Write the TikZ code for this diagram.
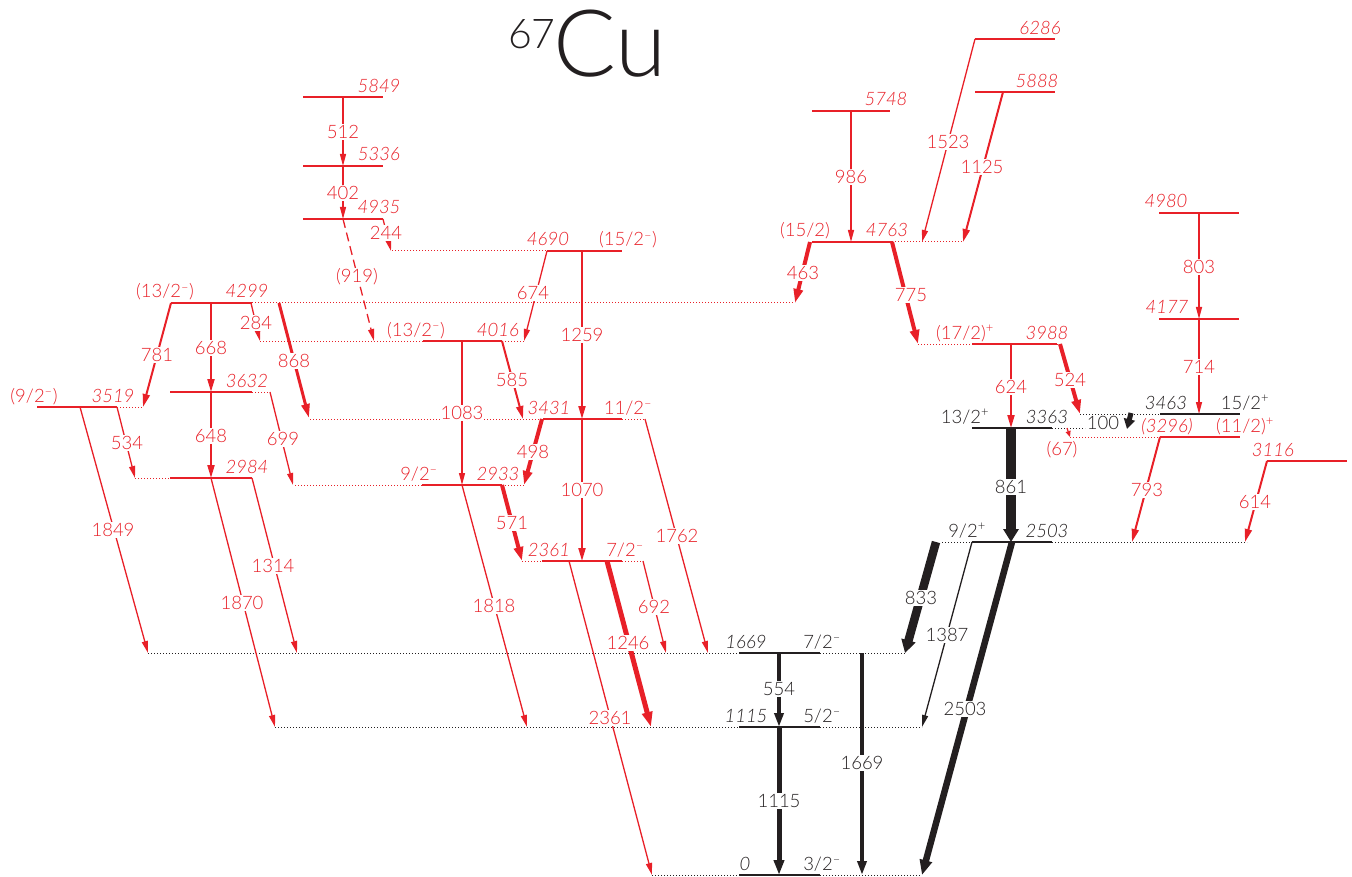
\documentclass[tikz,border=0pt]{standalone}
\usepackage{fontspec}
\setmainfont{Lato}[UprightFont={* Light},ItalicFont={* Light Italic}]
\usetikzlibrary{arrows.meta}
\pgfdeclarelayer{fg}
\pgfsetlayers{main,fg}
\definecolor{rd}{RGB}{232,32,40}
\definecolor{bk}{RGB}{35,31,32}
\tikzset{
  lvl/.style={line width=1.6pt},
  dots/.style={line width=1pt, dash pattern=on 1pt off 2pt},
  gl/.style={font=\fontsize{18.5}{21}\selectfont, fill=white, inner sep=1pt},
  el/.style={font=\fontsize{18.5}{21}\selectfont\itshape, anchor=base, inner sep=0pt},
  sl/.style={font=\fontsize{18.5}{21}\selectfont, anchor=base, inner sep=0pt},
  g0/.style={line width=1.2pt, -{Triangle[length=6pt,width=5pt]}},
  g1/.style={line width=1.3pt, -{Triangle[length=12pt,width=6pt]}},
  g2/.style={line width=2pt, -{Triangle[length=13pt,width=7pt]}},
  g3/.style={line width=3pt, -{Triangle[length=14pt,width=8pt]}},
  g4/.style={line width=4pt, -{Triangle[length=14pt,width=9pt]}},
  g5/.style={line width=5pt, -{Triangle[length=15pt,width=10pt]}},
  gI/.style={line width=6.5pt, -{Triangle[length=15pt,width=12pt]}},
  gJ/.style={line width=8.5pt, -{Triangle[length=13pt,width=14pt]}},
  gK/.style={line width=10pt, -{Triangle[length=13pt,width=15pt]}},
  gH/.style={line width=5pt, -{Triangle[length=10pt,width=11pt]}},
  dsh/.style={dash pattern=on 9pt off 5pt},
}
% level: colour, y, dotted-left, solid-left, solid-right, dotted-right
\newcommand\Lev[6]{%
  \draw[#1,dots] (#3,#2) -- (#4,#2);
  \draw[#1,dots] (#5,#2) -- (#6,#2);
  \draw[#1,lvl] (#4,#2) -- (#5,#2);}
% transition: style, x1, y1, x2, y2, name, text, label x, label y
\newcommand\G[9]{%
  \draw[#1] (#2,#3) -- (#4,#5);
  \begin{pgfonlayer}{fg}\node[#1,gl] (#6) at (#8,#9) {#7};\end{pgfonlayer}}
\newcommand\EL[4]{\node[el,#1] (e#2) at (#3,#4) {#2};}
\newcommand\SL[5]{\node[sl,#1] (#2) at (#4,#5) {#3};}
\newcommand\mi{\textsuperscript{–}}
\newcommand\pl{\textsuperscript{+}}
\begin{document}
\begin{tikzpicture}[x=1pt,y=-1pt]
\useasboundingbox (0,0) rectangle (1352,877);
% title
\node[bk,font=\fontsize{41}{41}\selectfont, anchor=base west, inner sep=0pt] (mass) at (508,49) {67};
\node[bk,font=\fontsize{93}{93}\selectfont, anchor=base west, inner sep=0pt] (cu) at (mass.base east) [xshift=-3pt, yshift=-28pt] {Cu};
% red levels
\Lev{rd}{39}{975}{975}{1055}{1055}
\Lev{rd}{92}{975}{975}{1055}{1055}
\Lev{rd}{97}{303}{303}{383}{383}
\Lev{rd}{111}{812}{812}{890}{890}
\Lev{rd}{166}{303}{303}{383}{383}
\Lev{rd}{213}{1159}{1159}{1239}{1239}
\Lev{rd}{219}{303}{303}{383}{383}
\Lev{rd}{242}{812}{812}{892}{963}
\Lev{rd}{251}{392}{547}{622}{622}
\Lev{rd}{303}{171}{171}{252}{795}
\Lev{rd}{319}{1159}{1159}{1239}{1239}
\Lev{rd}{344}{918}{972}{1057}{1060}
\Lev{rd}{341}{260}{423}{502}{524}
\Lev{rd}{392}{170}{170}{252}{270}
\Lev{rd}{407}{37}{37}{117}{143}
\Lev{rd}{419}{310}{543}{622}{645}
\Lev{rd}{437}{1070}{1160}{1240}{1240}
\Lev{rd}{461}{1267}{1267}{1347}{1347}
\Lev{rd}{478}{135}{170}{252}{252}
\Lev{rd}{485}{295}{422}{502}{524}
\Lev{rd}{561}{522}{542}{622}{643}
% black levels
\Lev{bk}{414}{1080}{1160}{1240}{1240}
\Lev{bk}{428}{972}{972}{1052}{1085}
\Lev{bk}{542}{942}{972}{1052}{1247}
\Lev{bk}{653}{148}{739}{820}{905}
\Lev{bk}{727}{275}{739}{820}{922}
\Lev{bk}{875}{652}{739}{820}{920}
% red transitions
\G{rd,g1}{343}{97}{343}{166}{t512}{512}{343}{132}
\G{rd,g1}{343}{166}{343}{219}{t402}{402}{343}{193}
\G{rd,g1}{383}{219}{391}{251}{t244}{244}{386}{233}
\G{rd,g1,dsh}{343}{219}{374}{341}{t919}{(919)}{357}{277}
\G{rd,g1}{851}{111}{851}{242}{t986}{986}{851}{177}
\G{rd,g1}{975}{39}{922}{242}{t1523}{1523}{948}{142}
\G{rd,g2}{1003}{92}{963}{242}{t1125}{1125}{982}{167}
\G{rd,g4}{810}{242}{795}{303}{t463}{463}{803}{273}
\G{rd,g4}{892}{242}{918}{344}{t775}{775}{911}{295}
\G{rd,g1}{547}{251}{524}{341}{t674}{674}{533}{293}
\G{rd,g2}{582}{251}{582}{419}{t1259}{1259}{582}{335}
\G{rd,g1}{1199}{213}{1199}{319}{t803}{803}{1199}{267}
\G{rd,g1}{1199}{319}{1199}{414}{t714}{714}{1199}{367}
\G{rd,g2}{171}{303}{143}{407}{t781}{781}{157}{355}
\G{rd,g2}{211}{303}{211}{392}{t668}{668}{211}{348}
\G{rd,g1}{251}{303}{260}{341}{t284}{284}{256}{323}
\G{rd,g3}{279}{303}{309}{418}{t868}{868}{294}{361}
\G{rd,g2}{1011}{344}{1011}{428}{t624}{624}{1011}{387}
\G{rd,g4}{1060}{344}{1080}{414}{t524}{524}{1070}{380}
\G{rd,g0}{1067}{428}{1070}{437}{t67}{(67)}{1062}{450}
\G{rd,g2}{502}{341}{523}{419}{t585}{585}{512}{380}
\G{rd,g1}{462}{341}{462}{485}{t1083}{1083}{462}{413}
\G{rd,g2}{211}{392}{211}{478}{t648}{648}{211}{436}
\G{rd,g1}{270}{392}{293}{485}{t699}{699}{283}{439}
\G{rd,g1}{117}{407}{135}{478}{t534}{534}{127}{443}
\G{rd,g1}{80}{407}{148}{653}{t1849}{1849}{113}{530}
\G{rd,g4}{542}{419}{524}{485}{t498}{498}{533}{452}
\G{rd,g2}{582}{419}{582}{561}{t1070}{1070}{582}{490}
\G{rd,g1}{645}{419}{708}{653}{t1762}{1762}{677}{536}
\G{rd,g2}{1160}{437}{1132}{542}{t793}{793}{1147}{490}
\G{rd,g2}{1267}{461}{1245}{542}{t614}{614}{1255}{502}
\G{rd,g4}{502}{485}{522}{561}{t571}{571}{512}{523}
\G{rd,g1}{252}{478}{297}{653}{t1314}{1314}{273}{566}
\G{rd,g1}{211}{478}{275}{727}{t1870}{1870}{242}{603}
\G{rd,g1}{462}{485}{527}{727}{t1818}{1818}{494}{606}
\G{rd,g1}{643}{561}{666}{653}{t692}{692}{654}{607}
\G{rd,g5}{607}{561}{651}{727}{t1246}{1246}{628}{643}
\G{rd,g1}{569}{561}{652}{875}{t2361}{2361}{610}{718}
% black transitions
\G{bk,gK}{1011}{428}{1011}{542}{t861}{861}{1011}{487}
\G{bk,gH}{1131}{413}{1127}{429}{t100}{100}{1103}{423}
\G{bk,gJ}{936}{542}{905}{653}{t833}{833}{921}{598}
\G{bk,g1}{972}{542}{922}{727}{t1387}{1387}{947}{635}
\G{bk,gI}{1012}{542}{922}{875}{t2503}{2503}{965}{709}
\G{bk,g4}{779}{653}{779}{727}{t554}{554}{779}{689}
\G{bk,g5}{779}{727}{779}{875}{t1115}{1115}{779}{801}
\G{bk,g4}{862}{653}{862}{875}{t1669}{1669}{862}{763}
% level labels
\begin{pgfonlayer}{fg}
\EL{rd}{6286}{1040}{35}
\EL{rd}{5888}{1037}{88}
\EL{rd}{5849}{379}{93}
\EL{rd}{5748}{886}{106}
\EL{rd}{5336}{379}{161}
\EL{rd}{4980}{1166}{208}
\EL{rd}{4935}{379}{214}
\EL{rd}{4763}{887}{237}
\SL{rd}{s4763}{(15/2)}{805}{237}
\EL{rd}{4690}{548}{246}
\SL{rd}{s4690}{(15/2\mi)}{628}{246}
\EL{rd}{4299}{247}{298}
\SL{rd}{s4299}{(13/2\mi)}{165}{298}
\EL{rd}{4177}{1167}{314}
\EL{rd}{3988}{1047}{339}
\SL{rd}{s3988}{(17/2)\pl}{965}{339}
\EL{rd}{4016}{498}{336}
\SL{rd}{s4016}{(13/2\mi)}{416}{336}
\EL{rd}{3632}{247}{387}
\EL{rd}{3519}{113}{402}
\SL{rd}{s3519}{(9/2\mi)}{34}{402}
\EL{rd}{3431}{549}{414}
\SL{rd}{s3431}{11/2\mi}{628}{414}
\node[el,rd] (e3296) at (1167,432) {(3296)};
\SL{rd}{s3296}{(11/2)\pl}{1245}{432}
\EL{rd}{3116}{1273}{456}
\EL{rd}{2984}{247}{473}
\EL{rd}{2933}{498}{480}
\SL{rd}{s2933}{9/2\mi}{419}{480}
\EL{rd}{2361}{549}{556}
\SL{rd}{s2361}{7/2\mi}{625}{556}
\EL{bk}{3463}{1166}{409}
\SL{bk}{s3463}{15/2\pl}{1245}{409}
\EL{bk}{3363}{1047}{423}
\SL{bk}{s3363}{13/2\pl}{965}{423}
\EL{bk}{2503}{1047}{537}
\SL{bk}{s2503}{9/2\pl}{967}{537}
\EL{bk}{1669}{746}{648}
\SL{bk}{s1669}{7/2\mi}{822}{648}
\EL{bk}{1115}{746}{722}
\SL{bk}{s1115}{5/2\mi}{822}{722}
\EL{bk}{0}{745}{870}
\SL{bk}{s0}{3/2\mi}{822}{870}
\end{pgfonlayer}
\end{tikzpicture}
\end{document}
